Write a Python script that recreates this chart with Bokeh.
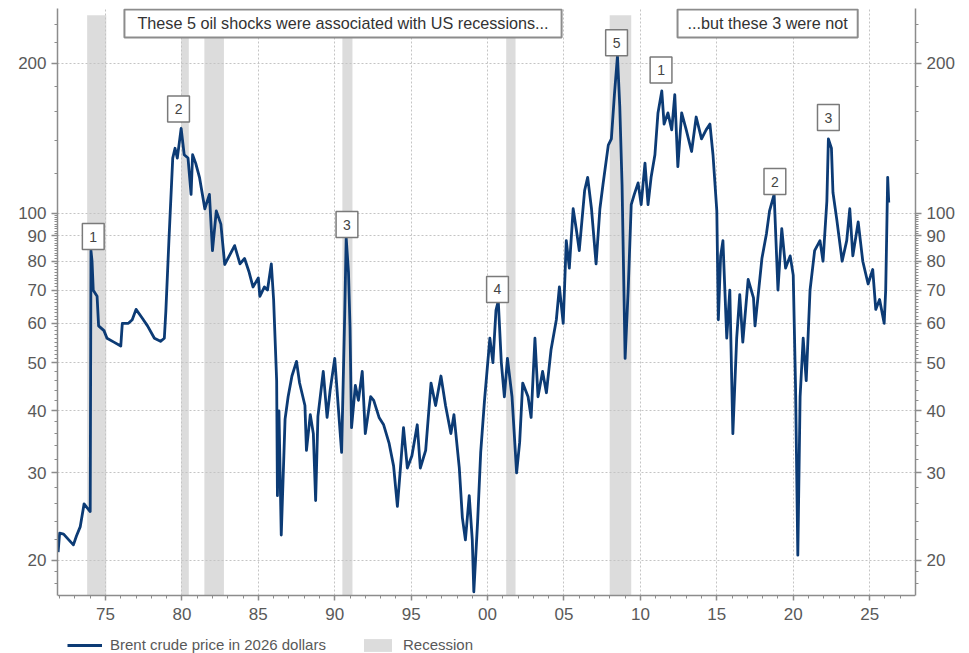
from bokeh.plotting import figure
from bokeh.models import (LogAxis, FixedTicker, Label, Legend, LegendItem, Range1d)
from bokeh.embed import file_html
from bokeh.resources import INLINE

# ---------------- data ----------------
years = [
    1971.90, 1972.00, 1972.26, 1972.60, 1972.90, 1973.10, 1973.35, 1973.60, 1973.90, 1974.00,
    1974.05, 1974.12, 1974.20, 1974.45, 1974.55, 1974.90, 1975.10, 1975.55, 1976.00, 1976.10,
    1976.50, 1976.75, 1977.00, 1977.40, 1977.75, 1978.20, 1978.60, 1978.85, 1978.95, 1979.15,
    1979.40, 1979.55, 1979.70, 1979.95, 1980.15, 1980.40, 1980.60, 1980.70, 1980.90, 1981.15,
    1981.50, 1981.80, 1982.00, 1982.25, 1982.55, 1982.80, 1983.10, 1983.45, 1983.80, 1984.10,
    1984.40, 1984.65, 1985.00, 1985.10, 1985.40, 1985.60, 1985.85, 1986.00, 1986.20, 1986.25,
    1986.35, 1986.50, 1986.75, 1986.95, 1987.20, 1987.50, 1987.70, 1988.05, 1988.15, 1988.40,
    1988.60, 1988.75, 1988.90, 1989.25, 1989.50, 1989.70, 1990.00, 1990.25, 1990.45, 1990.65,
    1990.75, 1990.90, 1991.00, 1991.10, 1991.35, 1991.55, 1991.80, 1992.00, 1992.35, 1992.55,
    1992.90, 1993.20, 1993.55, 1993.85, 1994.10, 1994.30, 1994.50, 1994.75, 1995.05, 1995.40,
    1995.60, 1995.95, 1996.30, 1996.60, 1996.95, 1997.25, 1997.60, 1997.80, 1998.15, 1998.35,
    1998.55, 1998.80, 1999.00, 1999.10, 1999.35, 1999.55, 1999.80, 2000.15, 2000.35, 2000.55,
    2000.70, 2000.90, 2001.10, 2001.30, 2001.60, 2001.90, 2002.10, 2002.30, 2002.65, 2002.85,
    2003.10, 2003.30, 2003.60, 2003.85, 2004.15, 2004.50, 2004.70, 2004.95, 2005.15, 2005.35,
    2005.60, 2005.80, 2006.00, 2006.35, 2006.55, 2006.80, 2007.10, 2007.35, 2007.55, 2007.90,
    2008.10, 2008.30, 2008.50, 2008.65, 2008.80, 2009.00, 2009.20, 2009.40, 2009.60, 2009.85,
    2010.05, 2010.30, 2010.50, 2010.70, 2010.95, 2011.15, 2011.40, 2011.55, 2011.80, 2012.05,
    2012.25, 2012.45, 2012.70, 2013.00, 2013.35, 2013.65, 2014.00, 2014.30, 2014.55, 2014.75,
    2015.00, 2015.10, 2015.25, 2015.40, 2015.65, 2015.85, 2016.05, 2016.30, 2016.50, 2016.70,
    2017.05, 2017.40, 2017.50, 2017.95, 2018.25, 2018.45, 2018.75, 2019.00, 2019.25, 2019.50,
    2019.80, 2020.00, 2020.15, 2020.30, 2020.45, 2020.65, 2020.85, 2021.10, 2021.40, 2021.75,
    2021.95, 2022.20, 2022.30, 2022.50, 2022.60, 2022.85, 2023.20, 2023.50, 2023.70, 2023.90,
    2024.25, 2024.55, 2024.90, 2025.20, 2025.40, 2025.65, 2025.95, 2026.05, 2026.12, 2026.18,
    2026.25,
]
brent_real = [
    20.8, 22.7, 22.6, 22.0, 21.5, 22.4, 23.4, 26.0, 25.3, 25.1,
    84.0, 80.0, 69.9, 68.0, 59.3, 58.0, 56.0, 55.0, 54.0, 60.0,
    60.0, 61.0, 64.0, 61.5, 59.3, 56.0, 55.2, 56.0, 63.5, 88.0,
    129.0, 135.0, 129.0, 148.0, 131.0, 129.0, 109.0, 131.0, 126.0, 118.0,
    102.0, 109.0, 84.0, 101.0, 95.0, 78.8, 82.0, 86.0, 79.0, 81.0,
    76.0, 71.0, 74.0, 68.0, 71.0, 70.0, 79.0, 67.0, 46.0, 27.0,
    40.0, 22.5, 38.5, 42.7, 47.0, 50.3, 45.5, 41.0, 33.3, 39.3,
    36.0, 26.4, 39.0, 48.0, 38.8, 44.0, 51.0, 40.0, 33.0, 62.0,
    89.0, 76.0, 59.0, 37.0, 45.0, 42.0, 48.0, 36.0, 42.7, 42.0,
    38.8, 37.5, 34.5, 31.0, 25.7, 30.7, 37.0, 30.7, 32.5, 37.5,
    30.7, 33.3, 45.5, 41.0, 47.0, 41.0, 36.0, 39.3, 30.7, 24.4,
    22.0, 27.0, 22.0, 17.3, 24.0, 33.0, 42.0, 56.0, 50.0, 63.7,
    66.6, 50.0, 42.7, 51.0, 42.7, 30.0, 34.6, 45.5, 42.7, 38.8,
    56.0, 42.7, 48.0, 43.5, 53.0, 61.0, 71.0, 60.0, 88.0, 77.5,
    102.0, 93.0, 84.0, 111.0, 118.0, 102.0, 79.0, 102.0, 114.0, 137.0,
    141.0, 173.0, 207.0, 164.0, 114.0, 51.0, 70.0, 104.0, 109.0, 115.0,
    104.0, 126.0, 104.0, 118.0, 131.0, 159.0, 176.0, 151.0, 159.0, 147.0,
    173.0, 124.0, 159.0, 147.0, 133.0, 156.0, 141.0, 147.0, 151.0, 131.0,
    101.0, 61.0, 82.0, 88.0, 56.0, 70.0, 36.0, 56.0, 68.5, 55.0,
    73.5, 67.5, 59.3, 81.0, 91.0, 101.0, 109.0, 70.0, 93.0, 77.5,
    82.0, 75.0, 45.0, 20.5, 42.7, 56.0, 46.0, 70.0, 84.0, 88.0,
    80.0, 105.6, 141.0, 135.0, 110.0, 97.0, 80.0, 88.0, 102.0, 82.0,
    96.0, 80.0, 72.0, 77.0, 64.0, 67.0, 60.0, 70.0, 92.0, 118.0,
    105.0,
]

recession_start = [1973.80, 1979.95, 1981.47, 1990.50, 2001.22, 2007.99]
recession_end = [1975.05, 1980.45, 1982.75, 1991.16, 2001.83, 2009.40]

# numbered oil-shock labels: text, year, price level of the label
shock_text = ["1", "2", "3", "4", "5", "1", "2", "3"]
shock_year = [1974.20, 1979.78, 1990.80, 2000.65, 2008.44, 2011.35, 2018.80, 2022.30]
shock_price = [89.7, 162.0, 94.8, 70.2, 220.0, 194.0, 115.7, 155.6]

note_left = "These 5 oil shocks were associated with US recessions..."
note_right = "...but these 3 were not"

x_ticks = [1975, 1980, 1985, 1990, 1995, 2000, 2005, 2010, 2015, 2020, 2025]
x_tick_labels = ["75", "80", "85", "90", "95", "00", "05", "10", "15", "20", "25"]
x_minor = list(range(1972, 2028))

y_ticks = [20, 30, 40, 50, 60, 70, 80, 90, 100, 200]
y_tick_labels = ["20", "30", "40", "50", "60", "70", "80", "90", "100", "200"]
y_minor = ([18, 19] + list(range(22, 30, 2)) + list(range(32, 50, 2)) +
           [v for v in range(51, 100) if v % 10] + [120, 140, 160, 180, 220, 240])

series_label = "Brent crude price in 2026 dollars"
band_label = "Recession"

# ---------------- styling ----------------
FONT = "Liberation Sans"
NAVY = "#0c3b75"
BAND = "#dcdcdc"
AXIS = "#8c8c8c"
TXT = "#595959"
Y_BOT = 17.0     # value where the x axis sits
Y_TOP = 257.9    # frame top (a little above the plotted area so the notes fit)
Y_FRAME_BOT = 13.0  # frame extends below the axis to hold tick labels and legend

p = figure(frame_width=858, frame_height=645,
           x_range=Range1d(1971.86, 2028.0), y_range=Range1d(Y_FRAME_BOT, Y_TOP),
           y_axis_type="log", output_backend="svg", toolbar_location=None,
           min_border_left=57, min_border_right=54, min_border_top=8,
           min_border_bottom=0, outline_line_color=None,
           background_fill_color="white", border_fill_color="white")

band_r = p.quad(left=recession_start, right=recession_end,
                bottom=[Y_BOT] * len(recession_start), top=[250.0] * len(recession_start),
                fill_color=BAND, line_color=None, level="image")
line_r = p.line(years, brent_real, line_color=NAVY, line_width=2.8, line_join="round")

right_axis = LogAxis()
p.add_layout(right_axis, "right")

xt = FixedTicker(ticks=x_ticks, minor_ticks=x_minor)
yt = FixedTicker(ticks=y_ticks, minor_ticks=y_minor)
p.xaxis.ticker = xt
p.xaxis.major_label_overrides = {t: l for t, l in zip(x_ticks, x_tick_labels)}
p.xaxis.fixed_location = Y_BOT
for ax in p.yaxis:
    ax.ticker = yt
    ax.major_label_overrides = {t: l for t, l in zip(y_ticks, y_tick_labels)}
    ax.bounds = (Y_BOT, Y_TOP)

for ax in list(p.xaxis) + list(p.yaxis):
    ax.axis_line_color = AXIS
    ax.axis_line_width = 1.5
    ax.major_tick_line_color = AXIS
    ax.minor_tick_line_color = AXIS
    ax.major_tick_line_width = 1.5
    ax.major_tick_in = 0
    ax.major_tick_out = 6
    ax.minor_tick_in = 0
    ax.minor_tick_out = 3
    ax.major_label_text_font = FONT
    ax.major_label_text_font_size = "17px"
    ax.major_label_text_color = TXT
    ax.major_label_standoff = 5
p.xaxis.major_label_standoff = 7
p.xaxis.major_tick_out = 5

p.xgrid.grid_line_color = "#c4c4c4"
p.xgrid.grid_line_dash = "2 2"
p.xgrid.cross_bounds = (Y_BOT, Y_TOP)
p.ygrid.grid_line_color = "#c4c4c4"
p.ygrid.grid_line_dash = "2 2"
p.ygrid.ticker = yt
p.xgrid.ticker = xt

# notes at top
p.add_layout(Label(x=1976.24, y=240.6, text=note_left, text_align="left",
                   text_baseline="middle", text_font=FONT, text_font_size="16.2px",
                   text_color="#333333", background_fill_color="white",
                   border_line_color=AXIS, border_line_width=2, padding=(13, 5)))
p.add_layout(Label(x=2012.43, y=240.6, text=note_right, text_align="left",
                   text_baseline="middle", text_font=FONT, text_font_size="16.2px",
                   text_color="#333333", background_fill_color="white",
                   border_line_color=AXIS, border_line_width=2, padding=(10, 5)))

for t, xx, yy in zip(shock_text, shock_year, shock_price):
    p.add_layout(Label(x=xx, y=yy, text=t, text_align="center", text_baseline="middle",
                       text_font=FONT, text_font_size="14px", text_color="#444444",
                       background_fill_color="white", border_line_color="#7a7a7a",
                       border_line_width=1.5, padding=(7, 8)))

legend = Legend(items=[LegendItem(label=series_label, renderers=[line_r]),
                       LegendItem(label=band_label, renderers=[band_r])],
                orientation="horizontal", location=(10, 0),
                label_text_font=FONT, label_text_font_size="15px",
                label_text_color=TXT, glyph_width=35, glyph_height=16,
                label_height=16, label_standoff=8, spacing=34, padding=0, margin=0,
                border_line_color=None, background_fill_alpha=0)
p.add_layout(legend, "center")

open("out.html", "w").write(file_html(p, INLINE))
